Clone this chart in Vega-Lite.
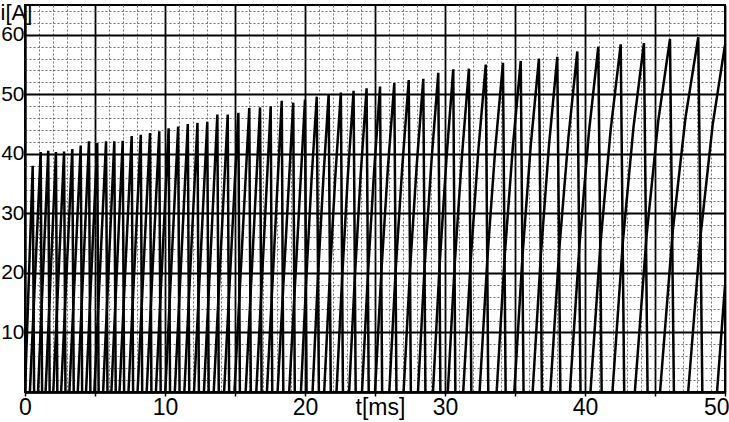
{
"$schema": "https://vega.github.io/schema/vega-lite/v6.json",
"width": 700, "height": 387,
"autosize": {"type": "none"},
"padding": {"left": 25, "top": 5, "right": 4, "bottom": 30},
"background": "white",
"config": {"view": {"stroke": "black", "strokeWidth": 2}, "font": "Liberation Sans"},
"data": {"values": [
{"k":1,"t":0.00,"i":0},{"k":1,"t":0.55,"i":38.0},{"k":1,"t":0.65,"i":0},
{"k":2,"t":0.35,"i":0},{"k":2,"t":1.12,"i":40.3},{"k":2,"t":1.22,"i":0},
{"k":3,"t":0.93,"i":0},{"k":3,"t":1.66,"i":40.5},{"k":3,"t":1.76,"i":0},
{"k":4,"t":1.47,"i":0},{"k":4,"t":2.21,"i":40.3},{"k":4,"t":2.31,"i":0},
{"k":5,"t":2.02,"i":0},{"k":5,"t":2.79,"i":40.4},{"k":5,"t":2.89,"i":0},
{"k":6,"t":2.58,"i":0},{"k":6,"t":3.38,"i":40.8},{"k":6,"t":3.48,"i":0},
{"k":7,"t":3.17,"i":0},{"k":7,"t":3.98,"i":41.4},{"k":7,"t":4.08,"i":0},
{"k":8,"t":3.77,"i":0},{"k":8,"t":4.57,"i":42.1},{"k":8,"t":4.67,"i":0},
{"k":9,"t":4.36,"i":0},{"k":9,"t":5.16,"i":41.8},{"k":9,"t":5.26,"i":0},
{"k":10,"t":4.95,"i":0},{"k":10,"t":5.79,"i":42.1},{"k":10,"t":5.89,"i":0},
{"k":11,"t":5.58,"i":0},{"k":11,"t":6.38,"i":42.1},{"k":11,"t":6.48,"i":0},
{"k":12,"t":6.17,"i":0},{"k":12,"t":6.98,"i":42.2},{"k":12,"t":7.08,"i":0},
{"k":13,"t":6.75,"i":0},{"k":13,"t":7.62,"i":43.0},{"k":13,"t":7.72,"i":0},
{"k":14,"t":7.39,"i":0},{"k":14,"t":8.27,"i":43.2},{"k":14,"t":8.37,"i":0},
{"k":15,"t":8.04,"i":0},{"k":15,"t":8.93,"i":43.5},{"k":15,"t":9.03,"i":0},
{"k":16,"t":8.69,"i":0},{"k":16,"t":9.59,"i":43.8},{"k":16,"t":9.69,"i":0},
{"k":17,"t":9.35,"i":0},{"k":17,"t":10.26,"i":44.3},{"k":17,"t":10.36,"i":0},
{"k":18,"t":10.02,"i":0},{"k":18,"t":10.94,"i":44.6},{"k":18,"t":11.04,"i":0},
{"k":19,"t":10.70,"i":0},{"k":19,"t":11.63,"i":45.0},{"k":19,"t":11.73,"i":0},
{"k":20,"t":11.38,"i":0},{"k":20,"t":12.32,"i":45.2},{"k":20,"t":12.42,"i":0},
{"k":21,"t":12.07,"i":0},{"k":21,"t":13.02,"i":45.4},{"k":21,"t":13.12,"i":0},
{"k":22,"t":12.78,"i":0},{"k":22,"t":13.74,"i":46.6},{"k":22,"t":13.84,"i":0},
{"k":23,"t":13.48,"i":0},{"k":23,"t":14.48,"i":46.6},{"k":23,"t":14.58,"i":0},
{"k":24,"t":14.22,"i":0},{"k":24,"t":15.24,"i":46.9},{"k":24,"t":15.35,"i":0},
{"k":25,"t":14.96,"i":0},{"k":25,"t":16.02,"i":47.7},{"k":25,"t":16.13,"i":0},
{"k":26,"t":15.76,"i":0},{"k":26,"t":16.79,"i":47.8},{"k":26,"t":16.90,"i":0},
{"k":27,"t":16.52,"i":0},{"k":27,"t":17.55,"i":48.0},{"k":27,"t":17.66,"i":0},
{"k":28,"t":17.28,"i":0},{"k":28,"t":18.34,"i":48.9},{"k":28,"t":18.45,"i":0},
{"k":29,"t":18.04,"i":0},{"k":29,"t":19.16,"i":48.6},{"k":29,"t":19.27,"i":0},
{"k":30,"t":18.87,"i":0},{"k":30,"t":20.00,"i":49.1},{"k":30,"t":20.11,"i":0},
{"k":31,"t":19.71,"i":0},{"k":31,"t":20.09,"i":18.9},{"k":31,"t":20.46,"i":35.4},{"k":31,"t":20.84,"i":49.6},{"k":31,"t":20.99,"i":0},
{"k":32,"t":20.54,"i":0},{"k":32,"t":20.92,"i":19.1},{"k":32,"t":21.31,"i":35.8},{"k":32,"t":21.69,"i":50.0},{"k":32,"t":21.84,"i":0},
{"k":33,"t":21.37,"i":0},{"k":33,"t":21.77,"i":19.3},{"k":33,"t":22.16,"i":36.0},{"k":33,"t":22.56,"i":50.3},{"k":33,"t":22.71,"i":0},
{"k":34,"t":22.25,"i":0},{"k":34,"t":22.66,"i":19.5},{"k":34,"t":23.06,"i":36.3},{"k":34,"t":23.47,"i":50.6},{"k":34,"t":23.62,"i":0},
{"k":35,"t":23.15,"i":0},{"k":35,"t":23.57,"i":19.7},{"k":35,"t":23.98,"i":36.6},{"k":35,"t":24.40,"i":51.0},{"k":35,"t":24.55,"i":0},
{"k":36,"t":24.07,"i":0},{"k":36,"t":24.50,"i":20.0},{"k":36,"t":24.93,"i":36.9},{"k":36,"t":25.36,"i":51.3},{"k":36,"t":25.51,"i":0},
{"k":37,"t":25.00,"i":0},{"k":37,"t":25.46,"i":20.4},{"k":37,"t":25.92,"i":37.6},{"k":37,"t":26.38,"i":51.9},{"k":37,"t":26.53,"i":0},
{"k":38,"t":26.02,"i":0},{"k":38,"t":26.48,"i":20.6},{"k":38,"t":26.95,"i":37.9},{"k":38,"t":27.41,"i":52.4},{"k":38,"t":27.56,"i":0},
{"k":39,"t":27.04,"i":0},{"k":39,"t":27.51,"i":20.8},{"k":39,"t":27.98,"i":38.1},{"k":39,"t":28.45,"i":52.6},{"k":39,"t":28.60,"i":0},
{"k":40,"t":28.07,"i":0},{"k":40,"t":28.55,"i":21.3},{"k":40,"t":29.04,"i":39.0},{"k":40,"t":29.52,"i":53.6},{"k":40,"t":29.67,"i":0},
{"k":41,"t":29.14,"i":0},{"k":41,"t":29.62,"i":21.5},{"k":41,"t":30.11,"i":39.4},{"k":41,"t":30.59,"i":54.2},{"k":41,"t":30.74,"i":0},
{"k":42,"t":30.20,"i":0},{"k":42,"t":30.70,"i":21.7},{"k":42,"t":31.21,"i":39.6},{"k":42,"t":31.71,"i":54.3},{"k":42,"t":31.88,"i":0},
{"k":43,"t":31.30,"i":0},{"k":43,"t":31.84,"i":22.2},{"k":43,"t":32.37,"i":40.3},{"k":43,"t":32.91,"i":55.0},{"k":43,"t":33.09,"i":0},
{"k":44,"t":32.47,"i":0},{"k":44,"t":33.03,"i":22.5},{"k":44,"t":33.58,"i":40.6},{"k":44,"t":34.14,"i":55.3},{"k":44,"t":34.33,"i":0},
{"k":45,"t":33.69,"i":0},{"k":45,"t":34.26,"i":22.7},{"k":45,"t":34.84,"i":41.0},{"k":45,"t":35.41,"i":55.6},{"k":45,"t":35.61,"i":0},
{"k":46,"t":34.95,"i":0},{"k":46,"t":35.54,"i":23.0},{"k":46,"t":36.12,"i":41.3},{"k":46,"t":36.71,"i":56.0},{"k":46,"t":36.92,"i":0},
{"k":47,"t":36.26,"i":0},{"k":47,"t":36.85,"i":23.1},{"k":47,"t":37.43,"i":41.5},{"k":47,"t":38.02,"i":56.3},{"k":47,"t":38.24,"i":0},
{"k":48,"t":37.52,"i":0},{"k":48,"t":38.16,"i":23.9},{"k":48,"t":38.81,"i":42.6},{"k":48,"t":39.45,"i":57.2},{"k":48,"t":39.68,"i":0},
{"k":49,"t":38.92,"i":0},{"k":49,"t":39.60,"i":24.5},{"k":49,"t":40.27,"i":43.4},{"k":49,"t":40.95,"i":58.0},{"k":49,"t":41.19,"i":0},
{"k":50,"t":40.39,"i":0},{"k":50,"t":41.11,"i":25.1},{"k":50,"t":41.83,"i":44.0},{"k":50,"t":42.55,"i":58.4},{"k":50,"t":42.80,"i":0},
{"k":51,"t":41.96,"i":0},{"k":51,"t":42.71,"i":25.4},{"k":51,"t":43.46,"i":44.4},{"k":51,"t":44.21,"i":58.6},{"k":51,"t":44.47,"i":0},
{"k":52,"t":43.56,"i":0},{"k":52,"t":44.40,"i":26.3},{"k":52,"t":45.23,"i":45.5},{"k":52,"t":46.07,"i":59.3},{"k":52,"t":46.35,"i":0},
{"k":53,"t":45.36,"i":0},{"k":53,"t":46.27,"i":27.1},{"k":53,"t":47.18,"i":46.1},{"k":53,"t":48.09,"i":59.6},{"k":53,"t":48.38,"i":0},
{"k":54,"t":47.37,"i":0},{"k":54,"t":48.25,"i":26.2},{"k":54,"t":49.12,"i":44.9},{"k":54,"t":50.00,"i":58.3},
{"k":55,"t":49.43,"i":0},{"k":55,"t":50.00,"i":17.9}
]},
"mark": {"type": "line", "color": "black", "strokeWidth": 2.5, "clip": true},
"encoding": {
  "x": {"field": "t", "type": "quantitative",
    "scale": {"domain": [0, 50], "nice": false, "zero": false},
    "axis": {
      "values": [0,1,2,3,4,5,6,7,8,9,10,11,12,13,14,15,16,17,18,19,20,21,22,23,24,25,26,27,28,29,30,31,32,33,34,35,36,37,38,39,40,41,42,43,44,45,46,47,48,49,50],
      "title": "t[ms]", "titleX": 355, "titleY": 4, "titleBaseline": "top", "titleAlign": "center",
      "titleFont": "Liberation Sans", "titleFontSize": 23, "titleFontWeight": "normal", "titleColor": "black", "titlePadding": 0,
      "labelExpr": "datum.value % 10 == 0 ? datum.label : ''",
      "labelFont": "Liberation Sans", "labelFontSize": 23, "labelColor": "black", "labelPadding": 0,
      "labelFlush": false, "labelOverlap": false, "labelBound": false,
      "labelAlign": {"condition": {"test": "datum.value == 50", "value": "right"}, "value": "center"},
      "labelOffset": {"condition": {"test": "datum.value == 50", "value": 4}, "value": 0},
      "domainColor": "black", "domainWidth": 2.5,
      "tickColor": "black", "tickSize": 4, "tickWidth": 1.5,
      "tickOpacity": {"condition": {"test": "datum.value % 5 != 0", "value": 0}, "value": 1},
      "grid": true,
      "gridColor": {"condition": {"test": "datum.value % 5 != 0", "value": "#707070"}, "value": "black"},
      "gridDash": {"condition": {"test": "datum.value % 5 != 0", "value": [2, 2]}, "value": []},
      "gridWidth": {"condition": {"test": "datum.value % 5 != 0", "value": 1}, "value": 1.8},
      "gridOpacity": 1
    }},
  "y": {"field": "i", "type": "quantitative",
    "scale": {"domain": [0, 65], "nice": false, "zero": true},
    "axis": {
      "values": [0,2,4,6,8,10,12,14,16,18,20,22,24,26,28,30,32,34,36,38,40,42,44,46,48,50,52,54,56,58,60,62,64],
      "title": "i[A]", "titleAngle": 0, "titleX": -25, "titleY": -3, "titleAlign": "left", "titleBaseline": "top",
      "titleFont": "Liberation Sans", "titleFontSize": 22, "titleFontWeight": "normal", "titleColor": "black",
      "labelExpr": "datum.value % 10 == 0 && datum.value > 0 ? datum.label : ''",
      "labelFont": "Liberation Sans", "labelFontSize": 21, "labelColor": "black", "labelPadding": 1,
      "labelOverlap": false, "labelFlush": false, "labelBound": false,
      "ticks": false,
      "domainColor": "black", "domainWidth": 2,
      "grid": true,
      "gridColor": {"condition": {"test": "datum.value % 10 != 0", "value": "#707070"}, "value": "black"},
      "gridDash": {"condition": {"test": "datum.value % 10 != 0", "value": [2, 2]}, "value": []},
      "gridWidth": {"condition": {"test": "datum.value % 10 != 0", "value": 1}, "value": 1.8},
      "gridOpacity": 1
    }},
  "detail": {"field": "k", "type": "nominal"}
}
}
